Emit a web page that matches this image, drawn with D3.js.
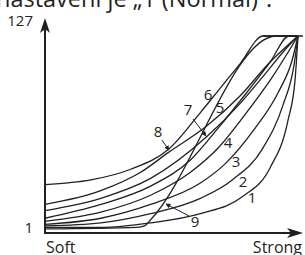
<!DOCTYPE html>
<html>
<head>
<meta charset="utf-8">
<script src="https://cdn.jsdelivr.net/npm/d3@7"></script>
<style>
  html, body { margin: 0; padding: 0; background: #fff; }
  svg { display: block; }
  text { font-family: "Open Sans", "Noto Sans", sans-serif; fill: #231f20; }
</style>
</head>
<body>
<svg id="chart" width="305" height="255"></svg>
<script>
// Velocity curves, input (0..127) -> output (0..127)
var curve1 = [[0, 2], [28, 2], [53, 5], [78, 11], [99, 22], [113, 41], [122, 72], [125.5, 98], [127, 127]];
var curve2 = [[0, 3], [28, 5], [53, 11], [78, 21], [94, 33], [109, 53], [119.5, 82], [125, 108], [127, 127]];
var curve3 = [[0, 4], [28, 8], [53, 17], [78, 31], [90, 43], [105, 66], [117, 90], [124, 111], [127, 127]];
var curve4 = [[0, 6], [28, 12], [53, 23], [73, 38], [87, 54], [100, 75], [114, 100], [127, 127]];
var curve5 = [[0, 8], [28, 17], [53, 29], [73, 46], [87, 67], [100, 88], [113, 110], [122.5, 127], [127, 127]];
var curve6 = [[0, 30], [23, 33], [43, 40], [62, 53], [78, 77], [88, 93], [98, 109], [109.5, 127], [127, 127]];
var curve7 = [[0, 13], [28, 21], [53, 34], [81, 61], [98, 83], [110, 101.5], [120.5, 118], [127, 127]];
var curve8 = [[0, 17], [28, 26], [48, 38], [62, 51], [81, 68], [98, 88], [113, 110], [127, 127]];
var curve9 = [[0, 1], [46, 2], [50, 3], [53, 7], [116, 127], [127, 127]];

var curves = [curve1, curve2, curve3, curve4, curve5, curve6, curve7, curve8, curve9];

var yTicks = [1, 127];
var xLabels = ['Soft', 'Strong'];
var title = 'nastavení je „1 (Normal)“.';

// curve numbers: [name, input, output]
var curveLabels = [
    ['1', 103.9, 21.2], ['2', 99.4, 31.7], ['3', 95.9, 44.7], ['4', 91.9, 57.1],
    ['5', 87.9, 80], ['6', 81.8, 88.4], ['7', 71.8, 78.7], ['8', 56.7, 64.3], ['9', 75.3, 5.5]
];

// leader arrows: [from, to]
var leaders = [
    [[74.3, 72.8], [80.8, 61.7]],
    [[58.7, 59.1], [62.2, 52.5]],
    [[72.3, 9.5], [60.7, 17.3]]
];

var svg = d3.select('#chart');

var x = d3.scaleLinear().domain([0, 127]).range([45, 298]);
var y = d3.scaleLinear().domain([0, 127]).range([230.5, 36]);

var originX = 45, originY = 233;

svg.append('defs').append('marker')
    .attr('id', 'tip')
    .attr('viewBox', '0 0 10 10')
    .attr('refX', 9).attr('refY', 5)
    .attr('markerWidth', 5).attr('markerHeight', 5)
    .attr('markerUnits', 'userSpaceOnUse')
    .attr('orient', 'auto')
    .append('path')
    .attr('d', 'M0,0L10,5L0,10Z')
    .style('fill', '#231f20');

// Title, cut off at the top edge.
svg.append('text')
    .attr('x', -4).attr('y', 7)
    .style('font-size', '23.5px')
    .text(title);

// Curves.
var line = d3.line()
    .x(function (d) { return x(d[0]); })
    .y(function (d) { return y(d[1]); })
    .curve(d3.curveMonotoneX);

svg.selectAll('path.curve')
    .data(curves)
    .enter()
    .append('path')
    .attr('class', 'curve')
    .attr('d', line)
    .style('fill', 'none')
    .style('stroke', '#231f20')
    .style('stroke-width', 1.3);

// Ceiling line runs a little past the last input.
svg.append('line')
    .attr('x1', x(109.5)).attr('x2', 303)
    .attr('y1', y(127)).attr('y2', y(127))
    .style('stroke', '#231f20')
    .style('stroke-width', 1.3);

// Axes with barbed arrowheads.
svg.append('line')
    .attr('x1', originX).attr('y1', originY)
    .attr('x2', originX).attr('y2', 26)
    .style('stroke', '#231f20').style('stroke-width', 2);
svg.append('line')
    .attr('x1', originX - 1).attr('y1', originY)
    .attr('x2', 295).attr('y2', originY)
    .style('stroke', '#231f20').style('stroke-width', 2);

svg.append('path')
    .attr('d', 'M' + originX + ',18 L' + (originX + 5) + ',33 L' + originX + ',29 L' + (originX - 5) + ',33 Z')
    .style('fill', '#231f20');
svg.append('path')
    .attr('d', 'M303,' + originY + ' L287,' + (originY - 5) + ' L291,' + originY + ' L287,' + (originY + 5) + ' Z')
    .style('fill', '#231f20');

// Y tick labels.
svg.selectAll('text.ytick')
    .data(yTicks)
    .enter()
    .append('text')
    .attr('class', 'ytick')
    .attr('x', 33)
    .attr('y', function (d) { return d === 127 ? 26 : y(d) + 4; })
    .attr('text-anchor', 'end')
    .style('font-size', '15px')
    .text(function (d) { return d; });

// X end labels.
svg.selectAll('text.xlab')
    .data(xLabels)
    .enter()
    .append('text')
    .attr('class', 'xlab')
    .attr('x', function (d, i) { return i === 0 ? 46 : 302; })
    .attr('y', 253)
    .attr('text-anchor', function (d, i) { return i === 0 ? 'start' : 'end'; })
    .style('font-size', '16px')
    .text(function (d) { return d; });

// Curve numbers.
svg.selectAll('text.num')
    .data(curveLabels)
    .enter()
    .append('text')
    .attr('class', 'num')
    .attr('x', function (d) { return x(d[1]); })
    .attr('y', function (d) { return y(d[2]) + 5; })
    .attr('text-anchor', 'middle')
    .style('font-size', '15px')
    .text(function (d) { return d[0]; });

// Leader arrows.
svg.selectAll('line.leader')
    .data(leaders)
    .enter()
    .append('line')
    .attr('class', 'leader')
    .attr('x1', function (d) { return x(d[0][0]); })
    .attr('y1', function (d) { return y(d[0][1]); })
    .attr('x2', function (d) { return x(d[1][0]); })
    .attr('y2', function (d) { return y(d[1][1]); })
    .attr('marker-end', 'url(#tip)')
    .style('stroke', '#231f20')
    .style('stroke-width', 1);
</script>
</body>
</html>
